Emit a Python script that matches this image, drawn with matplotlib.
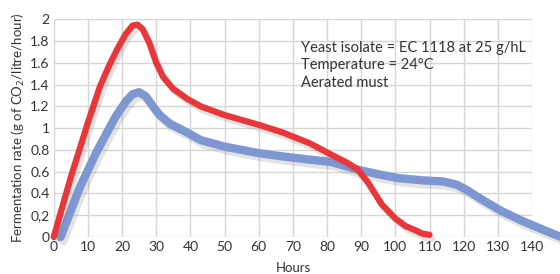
import matplotlib
matplotlib.use('Agg')
import matplotlib.pyplot as plt
import matplotlib.patheffects as pe

# data
horas_vermelho = [0, 5, 10, 13.5, 16, 18.5, 21, 23, 24.5, 26, 28, 30, 32, 35, 39, 43, 50, 60,
                  67, 75, 81, 86, 89, 92, 96, 100, 103, 106, 108, 110]
taxa_vermelho = [0, 0.55, 1.05, 1.38, 1.56, 1.72, 1.86, 1.94, 1.95, 1.91, 1.78, 1.6, 1.47, 1.36, 1.27, 1.2, 1.12, 1.03,
                 0.96, 0.86, 0.76, 0.68, 0.62, 0.5, 0.3, 0.17, 0.1, 0.06, 0.03, 0.02]

horas_azul = [2, 7.7, 12.5, 18, 21, 23, 25, 27, 29, 31, 34, 39, 43, 50, 60, 67, 75, 81, 90,
              96, 101, 108, 114, 118, 121, 125, 131, 137, 143, 148.5]
taxa_azul = [0, 0.46, 0.78, 1.1, 1.24, 1.31, 1.33, 1.29, 1.2, 1.12, 1.04, 0.96, 0.89, 0.83, 0.77, 0.74, 0.71, 0.69, 0.61,
             0.57, 0.54, 0.52, 0.51, 0.48, 0.43, 0.35, 0.24, 0.15, 0.07, 0.0]

x_ticks = list(range(0, 150, 10))
y_ticks = [0, 0.2, 0.4, 0.6, 0.8, 1.0, 1.2, 1.4, 1.6, 1.8, 2.0]
y_rotulos = ['0', '0,2', '0.4', '0.6', '0.8', '1', '1.2', '1.4', '1.6', '1.8', '2']
notas = ['Yeast isolate = EC 1118 at 25 g/hL', 'Temperature = 24\u00b0C', 'Aerated must']

plt.rcParams['font.family'] = ['Lato', 'DejaVu Sans']

fig = plt.figure(figsize=(5.6, 2.74), dpi=100)
ax = fig.add_axes([0.096, 0.135, 0.854, 0.795])

sombra = [pe.SimpleLineShadow(offset=(2, -3), shadow_color='gray', alpha=0.22), pe.Normal()]

ax.plot(horas_azul, taxa_azul, c='#7e97d2', lw=6, solid_capstyle='round', solid_joinstyle='round',
        clip_on=False, path_effects=sombra, zorder=3)
ax.plot(horas_vermelho, taxa_vermelho, c='#e9363b', lw=4.5, solid_capstyle='round', solid_joinstyle='round',
        clip_on=False, path_effects=sombra, zorder=4)

ax.set_xlim(0, 140)
ax.set_ylim(0, 2)
ax.set_xticks(x_ticks)
ax.set_yticks(y_ticks)
ax.set_yticklabels(y_rotulos)
ax.tick_params(length=0, labelsize=10, colors='#333333', pad=3)
ax.grid(True, color='#d6d6d6', lw=1)
ax.set_axisbelow(True)
for lado in ax.spines.values():
    lado.set_visible(False)

ax.set_xlabel('Hours', fontsize=9.5, color='#333333', labelpad=6)
ax.set_ylabel('Fermentation rate (g of CO$_2$/litre/hour)', fontsize=9.5, color='#333333', labelpad=2)

ax.text(72.5, 1.8, '\n'.join(notas), fontsize=10.5, color='#333333', va='top', ha='left',
        linespacing=1.3)

plt.savefig('out.png', dpi=100)
